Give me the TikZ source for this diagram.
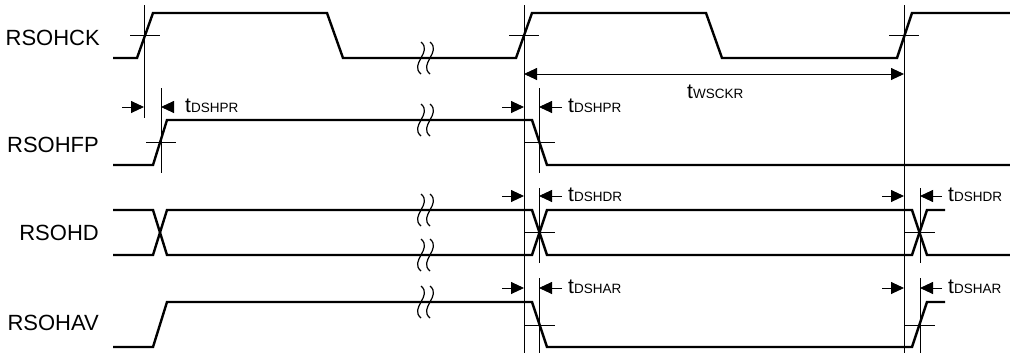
\documentclass[tikz,border=0pt]{standalone}
\usepackage{fontspec}
\setmainfont{Liberation Sans}
\usepackage{tikz}
\usetikzlibrary{arrows.meta,positioning}

\newcommand{\tsub}[1]{{\fontsize{21}{21}\selectfont t}{\fontsize{13.5}{13.5}\selectfont #1}}

\begin{document}
\begin{tikzpicture}[x=1pt, y=-1pt,
    signal/.style={line width=2.4pt},
    thin/.style={line width=0.9pt},
    brk/.style={line width=1.2pt},
    dimarrow/.style={-{Triangle[length=13pt,width=12pt]}, line width=0.9pt},
    dimboth/.style={{Triangle[length=13pt,width=12pt]}-{Triangle[length=13pt,width=12pt]}, line width=0.9pt},
    signame/.style={font=\fontsize{22}{22}\selectfont, anchor=base east, inner sep=0pt},
    tlabel/.style={anchor=base west, inner sep=0pt}
]
\useasboundingbox (0,0) rectangle (1010,354);

% signal names
\node[signame] (ck) at (100,45) {RSOHCK};
\node[signame] (fp) at (99,152) {RSOHFP};
\node[signame] (hd) at (99,240) {RSOHD};
\node[signame] (av) at (99,330) {RSOHAV};

% waveforms
\draw[signal] (113,58) -- (137,58) -- (153,13) -- (327,13) -- (343,58) -- (516,58)
    -- (532,13) -- (706,13) -- (722,58) -- (897,58) -- (912,13) -- (1010,13);
\draw[signal] (113,165) -- (153,165) -- (167,120) -- (532,120) -- (547,165) -- (1010,165);
\draw[signal] (113,210) -- (153,210) -- (167,255) -- (532,255) -- (547,210)
    -- (912,210) -- (927,255) -- (1010,255);
\draw[signal] (113,255) -- (153,255) -- (167,210) -- (532,210) -- (547,255)
    -- (912,255) -- (927,210) -- (945,210);
\draw[signal] (113,347) -- (153,347) -- (167,302) -- (532,302) -- (547,347)
    -- (912,347) -- (927,302) -- (945,302);

% break marks
\foreach \y in {58,120,210,255,302} {
  \foreach \x in {421,430}
    \draw[brk] (\x,{\y-16}) .. controls ({\x+12},{\y-6}) and ({\x-12},{\y+6}) .. (\x,{\y+16});
}

% reference lines
\coordinate (r1t) at (144,5);   \coordinate (r1b) at (144,118);
\coordinate (r2t) at (524,5);   \coordinate (r2b) at (524,353);
\coordinate (r3t) at (904,5);   \coordinate (r3b) at (904,353);
\draw[thin] (r1t) -- (r1b);
\draw[thin] (r2t) -- (r2b);
\draw[thin] (r3t) -- (r3b);
\draw[thin] (161,88) -- (161,173);
\draw[thin] (539,88) -- (539,173);
\draw[thin] (539,188) -- (539,263);
\draw[thin] (539,278) -- (539,353);
\draw[thin] (920,188) -- (920,263);
\draw[thin] (920,278) -- (920,353);

% threshold ticks
\draw[thin] (130,35) -- (160,35);
\draw[thin] (509,35) -- (539,35);
\draw[thin] (889,35) -- (919,35);
\draw[thin] (146,142) -- (176,142);
\draw[thin] (524,142) -- (555,142);
\draw[thin] (524,232) -- (555,232);
\draw[thin] (904,232) -- (935,232);
\draw[thin] (524,325) -- (555,325);
\draw[thin] (904,325) -- (935,325);

% tWSCKR
\coordinate (wl) at (524,74);
\coordinate (wr) at (904,74);
\draw[dimboth] (wl) -- (wr);
\node[tlabel] (wsckr) at (687,98) {\tsub{WSCKR}};

% tDSHPR
\draw[dimarrow] (122,107) -- (144,107);
\draw[dimarrow] (173,107) -- (161,107);
\node[tlabel] (dshpr1) at (185,112) {\tsub{DSHPR}};
\draw[dimarrow] (502,107) -- (524,107);
\draw[dimarrow] (562,107) -- (539,107);
\node[tlabel] (dshpr2) at (568,112) {\tsub{DSHPR}};

% tDSHDR
\draw[dimarrow] (502,196) -- (524,196);
\draw[dimarrow] (562,196) -- (539,196);
\node[tlabel] (dshdr1) at (568,201) {\tsub{DSHDR}};
\draw[dimarrow] (882,196) -- (904,196);
\draw[dimarrow] (942,196) -- (920,196);
\node[tlabel] (dshdr2) at (948,201) {\tsub{DSHDR}};

% tDSHAR
\draw[dimarrow] (502,288) -- (524,288);
\draw[dimarrow] (562,288) -- (539,288);
\node[tlabel] (dshar1) at (568,293) {\tsub{DSHAR}};
\draw[dimarrow] (882,288) -- (904,288);
\draw[dimarrow] (942,288) -- (920,288);
\node[tlabel] (dshar2) at (948,293) {\tsub{DSHAR}};

\end{tikzpicture}
\end{document}
